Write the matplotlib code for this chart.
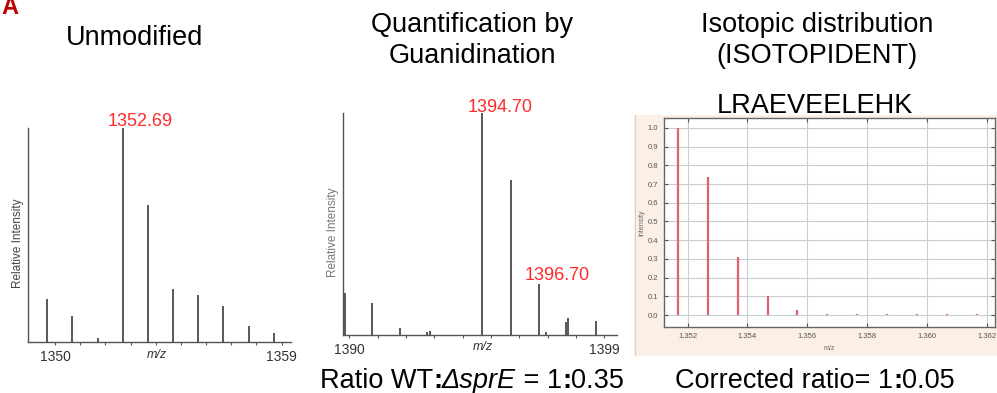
import numpy as np
import matplotlib
matplotlib.use('Agg')
import matplotlib.pyplot as plt
from matplotlib.transforms import IdentityTransform

plt.rcParams['font.family'] = ['Liberation Sans', 'DejaVu Sans']

W, H = 997, 393

# panel 1: unmodified peptide spectrum
mz1 = [1349.69, 1350.69, 1351.69, 1352.69, 1353.69, 1354.69, 1355.69, 1356.69, 1357.69, 1358.69]
int1 = [0.20, 0.12, 0.02, 1.00, 0.64, 0.25, 0.22, 0.17, 0.075, 0.04]

# panel 2: guanidinated WT / sprE mixture
mz2 = [1389.86, 1390.80, 1391.80, 1392.75, 1392.85, 1394.70, 1395.70, 1396.70, 1396.95, 1397.66, 1397.72, 1398.70]
int2 = [0.19, 0.145, 0.03, 0.012, 0.018, 1.00, 0.70, 0.23, 0.015, 0.06, 0.075, 0.063]

# panel 3: theoretical isotopic distribution (m/z in thousands)
mz3 = [1.35167, 1.35269, 1.35369, 1.35469, 1.35567, 1.35667, 1.35767, 1.35867, 1.35967, 1.36067, 1.36167]
int3 = [1.00, 0.74, 0.31, 0.10, 0.028, 0.006, 0.004, 0.004, 0.004, 0.004, 0.004]


def px_axes(fig, x0, y0, x1, y1):
    # pixel box (top-left origin) -> figure fraction axes
    return fig.add_axes([x0 / W, (H - y1) / H, (x1 - x0) / W, (y1 - y0) / H])


def ptext(fig, x, y, s, **kw):
    return fig.text(x / W, (H - y) / H, s, **kw)


def rich_text(fig, xc, y, pieces, size):
    # draw text pieces with differing weight/style side by side, centred on xc
    r = fig.canvas.get_renderer()
    objs = []
    for s, kw in pieces:
        t = fig.text(0, 0, s, fontsize=size, va='baseline', ha='left',
                     transform=IdentityTransform(), **kw)
        objs.append(t)
    widths = [t.get_window_extent(r).width for t in objs]
    x = xc - sum(widths) / 2
    for t, w in zip(objs, widths):
        t.set_position((x, H - y))
        x += w


def ms_panel(ax, mz, inten, xlim, ticks):
    ax.vlines(mz, 0, inten, color='#3c3c3c', lw=1.2)
    ax.set_xlim(*xlim)
    ax.set_ylim(0, 1.0)
    ax.spines['top'].set_visible(False)
    ax.spines['right'].set_visible(False)
    for s in ('left', 'bottom'):
        ax.spines[s].set_color('#555555')
        ax.spines[s].set_linewidth(1.0)
    ax.set_yticks([])
    ax.set_xticks(ticks)
    labels = [''] * len(ticks)
    labels[0] = str(ticks[0])
    labels[-1] = str(ticks[-1])
    ax.set_xticklabels(labels)
    ax.tick_params(axis='x', direction='out', length=2.5, width=0.8, colors='#555555',
                   labelsize=10, labelcolor='#333333', pad=3)
    ax.patch.set_alpha(0)


fig = plt.figure(figsize=(W / 100, H / 100), dpi=100)

ptext(fig, 1, 14, 'A', color='#c00000', fontsize=17, fontweight='bold', va='baseline')

# titles
ptext(fig, 135, 45, 'Unmodified', fontsize=19.5, ha='center', va='baseline')
ptext(fig, 472, 32, 'Quantification by', fontsize=19.5, ha='center', va='baseline')
ptext(fig, 472, 63, 'Guanidination', fontsize=19.5, ha='center', va='baseline')
ptext(fig, 817, 32, 'Isotopic distribution', fontsize=19.5, ha='center', va='baseline')
ptext(fig, 817, 63, '(ISOTOPIDENT)', fontsize=19.5, ha='center', va='baseline')
ptext(fig, 815, 113, 'LRAEVEELEHK', fontsize=19.5, ha='center', va='baseline')

# panel 1
ax1 = px_axes(fig, 28, 128, 291, 342)
ms_panel(ax1, mz1, int1, (1348.93, 1359.37), list(range(1350, 1360)))
ptext(fig, 140, 126, '1352.69', color='#ff2a2a', fontsize=13, ha='center', va='baseline')
ptext(fig, 18, 243, 'Relative Intensity', color='#444444', fontsize=8.5, rotation=90,
      ha='center', va='center')
ptext(fig, 157, 355, 'm/z', color='#333333', fontsize=9, style='italic', ha='center', va='center')

# panel 2
ax2 = px_axes(fig, 343, 113, 617, 335)
ms_panel(ax2, mz2, int2, (1389.78, 1399.45), list(range(1390, 1400)))
ptext(fig, 500, 112, '1394.70', color='#ff2a2a', fontsize=13, ha='center', va='baseline')
ptext(fig, 557, 280, '1396.70', color='#ff2a2a', fontsize=13, ha='center', va='baseline')
ptext(fig, 333, 232, 'Relative Intensity', color='#777777', fontsize=8.5, rotation=90,
      ha='center', va='center')
ptext(fig, 483, 347, 'm/z', color='#333333', fontsize=9, style='italic', ha='center', va='center')

# panel 3: screenshot-style isotope plot
bg = fig.add_axes([634 / W, (H - 356) / H, (W - 634) / W, (356 - 115) / H])
bg.set_facecolor('#fbefe6')
bg.set_xticks([])
bg.set_yticks([])
for s in bg.spines.values():
    s.set_visible(False)
bg.axvline(0.002, color='#d8d0ca', lw=0.8)

ax3 = px_axes(fig, 664, 118, 995, 327)
ax3.set_facecolor('white')
ax3.vlines(mz3, 0, int3, color='#e06070', lw=1.6, zorder=3)
ax3.set_xlim(1.35121, 1.36228)
ax3.set_ylim(-0.064, 1.053)
xt = [1.352, 1.354, 1.356, 1.358, 1.360, 1.362]
ax3.set_xticks(xt)
ax3.set_xticklabels(['%.3f' % v for v in xt])
yt = [round(0.1 * i, 1) for i in range(11)]
ax3.set_yticks(yt)
ax3.set_yticklabels(['%.1f' % v for v in yt])
ax3.grid(True, color='#c8cdd8', lw=0.8)
ax3.set_axisbelow(True)
ax3.tick_params(direction='in', length=3, width=0.8, colors='#555555', labelsize=5.5,
                labelcolor='#555555', top=True, right=True, pad=4)
for s in ax3.spines.values():
    s.set_color('#666666')
    s.set_linewidth(1.0)
ax3.set_xlabel('m/z', fontsize=5, color='#666666', labelpad=4)
ax3.set_ylabel('Intensity', fontsize=5, color='#666666', labelpad=2)

# bottom captions
rich_text(fig, 472, 388, [
    ('Ratio WT', {}),
    (':', {'fontweight': 'bold'}),
    ('\u0394sprE', {'style': 'italic'}),
    (' = 1', {}),
    (':', {'fontweight': 'bold'}),
    ('0.35', {}),
], 19.5)
rich_text(fig, 815, 388, [
    ('Corrected ratio= 1', {}),
    (':', {'fontweight': 'bold'}),
    ('0.05', {}),
], 19.5)

fig.savefig('out.png', dpi=100)
